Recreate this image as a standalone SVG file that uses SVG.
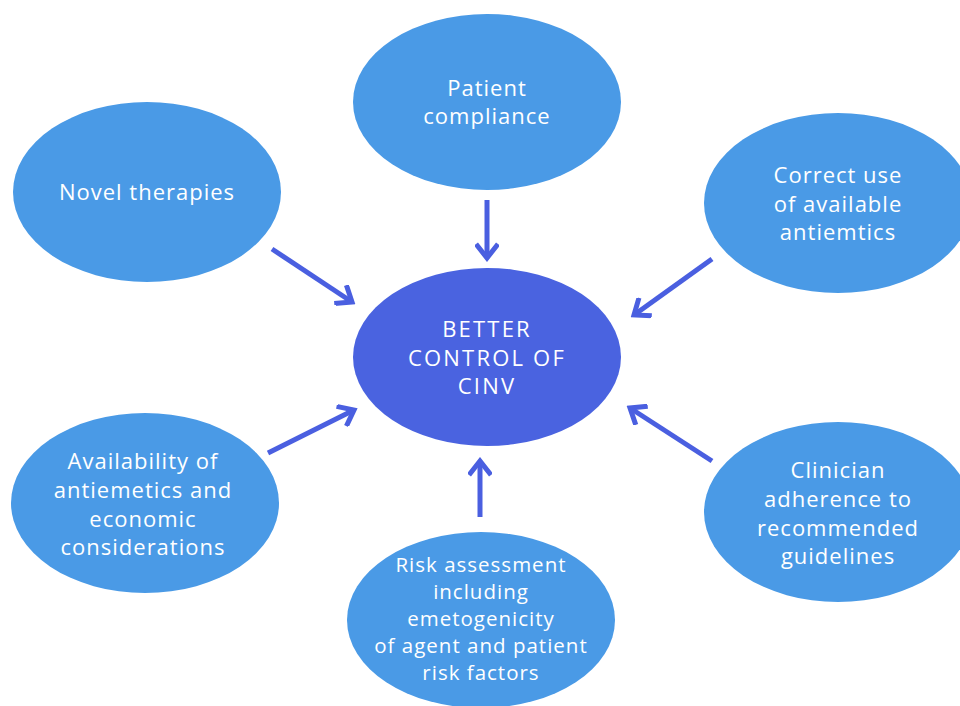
<svg xmlns="http://www.w3.org/2000/svg" width="960" height="706" viewBox="0 0 960 706">
  <style>
    .outer { fill: #4a9ae6; }
    .core { fill: #4a63e0; }
    .label { fill: #ffffff; font-family: "Open Sans", "DejaVu Sans", sans-serif; font-size: 22px; font-weight: 400; text-anchor: middle; letter-spacing: 1px; }
    .caps { letter-spacing: 2.2px; }
    .small { font-size: 20.5px; }
    .link { stroke: #4a5fe0; stroke-width: 5; fill: none; }
  </style>
  <defs>
    <marker id="chevron" viewBox="0 0 24 24" refX="20" refY="12" markerWidth="24" markerHeight="24" markerUnits="userSpaceOnUse" orient="auto">
      <path d="M6 1 L20 12 L6 23" fill="none" stroke="#4a5fe0" stroke-width="5"/>
    </marker>
  </defs>
  <rect width="960" height="706" fill="#ffffff"/>

  <g id="patient-compliance">
    <ellipse class="outer" cx="487" cy="102" rx="134" ry="88"/>
    <text class="label" x="487" y="96">Patient</text>
    <text class="label" x="487" y="124">compliance</text>
  </g>

  <g id="novel-therapies">
    <ellipse class="outer" cx="147" cy="192" rx="134" ry="90"/>
    <text class="label" x="147" y="200">Novel therapies</text>
  </g>

  <g id="correct-use">
    <ellipse class="outer" cx="838" cy="203" rx="134" ry="90"/>
    <text class="label" x="838" y="183">Correct use</text>
    <text class="label" x="838" y="212">of available</text>
    <text class="label" x="838" y="240">antiemtics</text>
  </g>

  <g id="better-control">
    <ellipse class="core" cx="487" cy="357" rx="134" ry="89"/>
    <text class="label caps" x="487" y="337">BETTER</text>
    <text class="label caps" x="487" y="366">CONTROL OF</text>
    <text class="label caps" x="487" y="394">CINV</text>
  </g>

  <g id="availability">
    <ellipse class="outer" cx="145" cy="503" rx="134" ry="90"/>
    <text class="label" x="143" y="469">Availability of</text>
    <text class="label" x="143" y="498">antiemetics and</text>
    <text class="label" x="143" y="527">economic</text>
    <text class="label" x="143" y="555">considerations</text>
  </g>

  <g id="clinician-adherence">
    <ellipse class="outer" cx="838" cy="512" rx="134" ry="90"/>
    <text class="label" x="838" y="478">Clinician</text>
    <text class="label" x="838" y="507">adherence to</text>
    <text class="label" x="838" y="536">recommended</text>
    <text class="label" x="838" y="564">guidelines</text>
  </g>

  <g id="risk-assessment">
    <ellipse class="outer" cx="481" cy="620" rx="134" ry="88"/>
    <text class="label small" x="481" y="572">Risk assessment</text>
    <text class="label small" x="481" y="599">including</text>
    <text class="label small" x="481" y="626">emetogenicity</text>
    <text class="label small" x="481" y="653">of agent and patient</text>
    <text class="label small" x="481" y="680">risk factors</text>
  </g>

  <g id="connectors">
    <line class="link" x1="487" y1="200" x2="487" y2="258" marker-end="url(#chevron)"/>
    <line class="link" x1="272" y1="249" x2="352" y2="302" marker-end="url(#chevron)"/>
    <line class="link" x1="712" y1="259" x2="634" y2="315" marker-end="url(#chevron)"/>
    <line class="link" x1="268" y1="453" x2="354" y2="410" marker-end="url(#chevron)"/>
    <line class="link" x1="480" y1="517" x2="480" y2="461" marker-end="url(#chevron)"/>
    <line class="link" x1="712" y1="461" x2="630" y2="408" marker-end="url(#chevron)"/>
  </g>
</svg>
